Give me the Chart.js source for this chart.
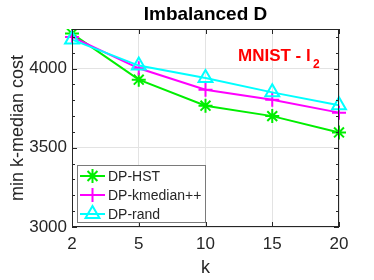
<!DOCTYPE html>
<html>
<head>
<meta charset="utf-8">
<script src="https://cdn.jsdelivr.net/npm/chart.js@4/dist/chart.umd.min.js"></script>
<style>
  html, body { margin: 0; padding: 0; background: #fff; }
  canvas { display: block; }
</style>
</head>
<body>
<canvas id="costChart" width="374" height="280"></canvas>
<script>
const kLabels = ['2', '5', '10', '15', '20'];
const hstCost = [4221, 3930, 3766, 3700, 3597];
const kmedianCost = [4200, 4002, 3867, 3804, 3722];
const randCost = [4183, 4019, 3940, 3850, 3768];
const seriesNames = ['DP-HST', 'DP-kmedian++', 'DP-rand'];

const FONT = "'Liberation Sans', Arial, Helvetica, sans-serif";
const AXIS_COLOR = '#262626';
const GRID_COLOR = '#e3e3e3';

// box, inward ticks, legend and texts in MATLAB style
const matlabLook = {
    id: 'matlabLook',
    afterDatasetsDraw(chart) {
        const { ctx, chartArea: { left, right, top, bottom } } = chart;
        const xs = chart.scales.x, ys = chart.scales.y;
        ctx.save();
        ctx.strokeStyle = AXIS_COLOR;
        ctx.lineWidth = 1;
        ctx.strokeRect(left + 0.5, top + 0.5, right - left - 1, bottom - top - 1);

        ctx.beginPath();
        for (let v = 3000; v <= 4250; v += 100) {
            const y = Math.round(ys.getPixelForValue(v)) + 0.5;
            const len = v % 500 === 0 ? 5 : 3;
            ctx.moveTo(left, y); ctx.lineTo(left + len, y);
            ctx.moveTo(right, y); ctx.lineTo(right - len, y);
        }
        kLabels.forEach((_, i) => {
            const x = Math.round(xs.getPixelForValue(i)) + 0.5;
            ctx.moveTo(x, bottom); ctx.lineTo(x, bottom - 5);
            ctx.moveTo(x, top); ctx.lineTo(x, top + 5);
        });
        ctx.stroke();

        // legend
        const lx = 77, ly = 165, lw = 128, lh = 57;
        ctx.fillStyle = '#fff';
        ctx.fillRect(lx, ly, lw, lh);
        ctx.strokeStyle = '#7a7a7a';
        ctx.strokeRect(lx + 0.5, ly + 0.5, lw, lh);
        chart.data.datasets.forEach((ds, i) => {
            const cy = ly + 11 + i * 19;
            ctx.strokeStyle = ds.borderColor;
            ctx.lineWidth = 2;
            ctx.beginPath();
            ctx.moveTo(lx + 3, cy); ctx.lineTo(lx + 28, cy);
            ctx.stroke();
            ctx.fillStyle = 'rgba(0,0,0,0)';
            Chart.helpers.drawPoint(ctx, {
                pointStyle: ds.pointStyle,
                radius: ds.pointRadius,
                borderWidth: 2,
                rotation: 0
            }, lx + 15.5, cy);
            ctx.fillStyle = AXIS_COLOR;
            ctx.font = `14px ${FONT}`;
            ctx.textAlign = 'left';
            ctx.textBaseline = 'middle';
            ctx.fillText(ds.label, lx + 31, cy + 1);
        });

        // title
        ctx.fillStyle = '#000';
        ctx.font = `bold 19px ${FONT}`;
        ctx.textAlign = 'center';
        ctx.textBaseline = 'middle';
        ctx.fillText('Imbalanced D', (left + right) / 2, 15);

        // annotation
        ctx.fillStyle = '#ff0000';
        ctx.font = `bold 17px ${FONT}`;
        ctx.textAlign = 'left';
        ctx.textBaseline = 'alphabetic';
        ctx.fillText('MNIST - l', 238, 61);
        ctx.font = `bold 12px ${FONT}`;
        ctx.fillText('2', 313, 68);

        // axis labels
        ctx.fillStyle = AXIS_COLOR;
        ctx.font = `18px ${FONT}`;
        ctx.textAlign = 'center';
        ctx.textBaseline = 'middle';
        ctx.fillText('k', (left + right) / 2, 268);
        ctx.translate(18, (top + bottom) / 2);
        ctx.rotate(-Math.PI / 2);
        ctx.fillText('min k-median cost', 0, 0);
        ctx.restore();
    }
};

new Chart(document.getElementById('costChart').getContext('2d'), {
    type: 'line',
    data: {
        labels: kLabels,
        datasets: [{
                label: seriesNames[0],
                data: hstCost,
                borderColor: '#00ee00',
                backgroundColor: 'rgba(0,0,0,0)',
                pointStyle: 'star',
                pointRadius: 7,
                borderWidth: 2,
                order: 3
            },
            {
                label: seriesNames[1],
                data: kmedianCost,
                borderColor: '#ff00ff',
                backgroundColor: 'rgba(0,0,0,0)',
                pointStyle: 'cross',
                pointRadius: 7,
                borderWidth: 2,
                order: 2
            },
            {
                label: seriesNames[2],
                data: randCost,
                borderColor: '#00ffff',
                backgroundColor: 'rgba(0,0,0,0)',
                pointStyle: 'triangle',
                pointRadius: 8,
                borderWidth: 2,
                order: 1
            }
        ]
    },
    options: {
        responsive: false,
        animation: false,
        devicePixelRatio: 1,
        layout: { padding: { top: 29, right: 35, left: 0, bottom: 0 } },
        elements: {
            line: { tension: 0 },
            point: { pointBorderWidth: 2, hoverRadius: 7 }
        },
        plugins: {
            legend: { display: false },
            tooltip: { enabled: false }
        },
        scales: {
            x: {
                type: 'category',
                offset: false,
                afterFit: (s) => { s.height = 53; },
                grid: {
                    color: GRID_COLOR,
                    drawTicks: false
                },
                border: { display: false },
                ticks: {
                    color: AXIS_COLOR,
                    padding: 7,
                    maxRotation: 0,
                    font: { family: FONT, size: 17 }
                }
            },
            y: {
                min: 3000,
                max: 4250,
                afterFit: (s) => { s.width = 72; },
                grid: {
                    drawTicks: false,
                    color: (c) => (c.tick && c.tick.value % 500 === 0) ? GRID_COLOR : 'rgba(0,0,0,0)'
                },
                border: { display: false },
                ticks: {
                    stepSize: 100,
                    autoSkip: false,
                    color: AXIS_COLOR,
                    padding: 5,
                    font: { family: FONT, size: 17 },
                    callback: (v) => v % 500 === 0 ? v : ''
                }
            }
        }
    },
    plugins: [matlabLook]
});
</script>
</body>
</html>
